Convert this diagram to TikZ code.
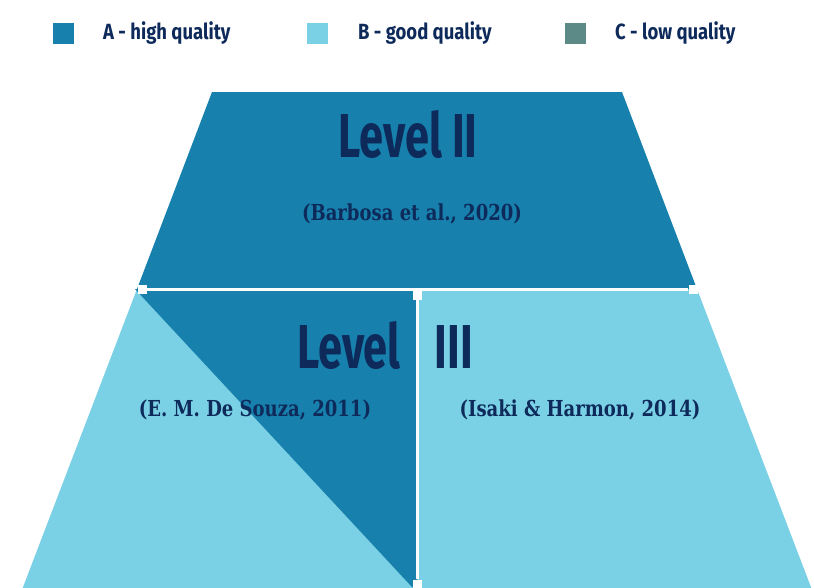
\documentclass[tikz,border=0pt]{standalone}
\usepackage{fontspec}
\newfontfamily\headfont[FakeStretch=0.70]{Fira Sans}
\newfontfamily\keyfont[FakeStretch=0.84]{Fira Sans}
\newfontfamily\citefont[FakeStretch=0.82]{DejaVu Serif}
\definecolor{qualityA}{HTML}{1780AC}
\definecolor{qualityB}{HTML}{7AD0E4}
\definecolor{qualityC}{HTML}{5B8A87}
\definecolor{navy}{HTML}{0D2A5A}
\begin{document}
\begin{tikzpicture}[
		x=1pt,
		y=-1pt,
		text=navy
	]
	\tikzset{
		legendbox/.style = {minimum size=21pt, inner sep=0pt},
		legendtext/.style = {anchor=west, inner sep=0pt, font=\keyfont\bfseries\fontsize{22}{22}\selectfont},
		leveltext/.style = {inner sep=0pt, font=\headfont\bfseries\fontsize{62}{62}\selectfont},
		citetext/.style = {inner sep=0pt, font=\citefont\bfseries\fontsize{22}{22}\selectfont},
		joint/.style = {fill=white, minimum size=9pt, inner sep=0pt},
		divider/.style = {white, line width=3pt},
	}
		\useasboundingbox (0,0) rectangle (814,587);
		%
		\node[legendbox, fill=qualityA] at (63.5,33) (boxa) {};
		\node[legendbox, fill=qualityB] at (317.5,33) (boxb) {};
		\node[legendbox, fill=qualityC] at (575.5,33) (boxc) {};
		\node[legendtext] at (103,33) (texta) {A - high quality};
		\node[legendtext] at (358,33) (textb) {B - good quality};
		\node[legendtext] at (615,33) (textc) {C - low quality};
		%
		\fill[qualityA] (212,92) -- (622,92) -- (697,289) -- (137,289) -- cycle;
		\fill[qualityB] (137,289) -- (697,289) -- (814,595) -- (20,595) -- cycle;
		\fill[qualityA] (135,289) -- (417,289) -- (417,587) -- (412,587) -- cycle;
		%
		\node[joint] at (142,289) (jl) {};
		\node[joint] at (417,295) (jm) {};
		\node[joint] at (693,289) (jr) {};
		\node[joint] at (417,584) (jb) {};
		\draw[divider] (jl) -- (jr);
		\draw[divider] (jm) -- (jb);
		%
		\node[leveltext] at (408,134) (lvtwo) {Level II};
		\node[citetext] at (412,214) (cbarbosa) {(Barbosa et al., 2020)};
		\node[leveltext, anchor=west] at (297,345) (lvthree) {Level\hspace{34pt}III};
		\node[citetext] at (255,410) (csouza) {(E. M. De Souza, 2011)};
		\node[citetext] at (580,410) (cisaki) {(Isaki \& Harmon, 2014)};
	\end{tikzpicture}
\end{document}
